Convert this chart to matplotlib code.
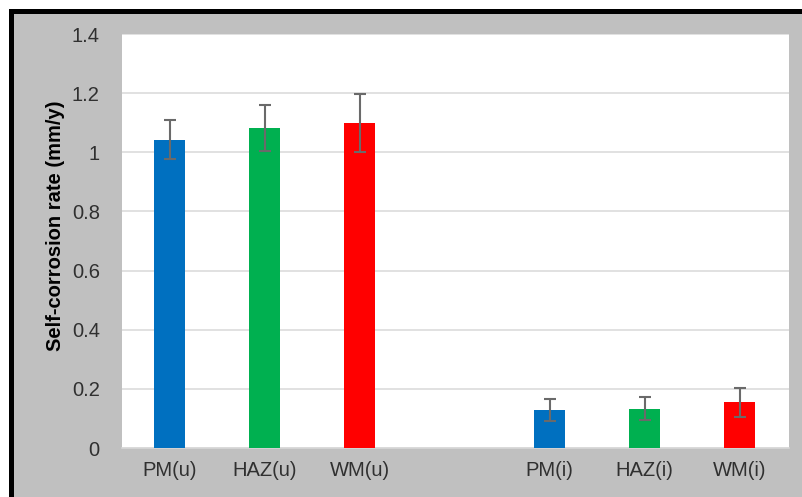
import matplotlib
matplotlib.use("Agg")
import matplotlib.pyplot as plt
from matplotlib.patches import Rectangle

# Self-corrosion rates for untreated (u) and treated (i) zones
categories = ["PM(u)", "HAZ(u)", "WM(u)", "PM(i)", "HAZ(i)", "WM(i)"]
positions = [0, 1, 2, 4, 5, 6]
rates = [1.043, 1.081, 1.098, 0.129, 0.133, 0.155]
errors = [0.066, 0.078, 0.098, 0.038, 0.038, 0.049]
colors = ["#0070c0", "#00b050", "#ff0000", "#0070c0", "#00b050", "#ff0000"]
y_ticks = [0, 0.2, 0.4, 0.6, 0.8, 1, 1.2, 1.4]
y_tick_labels = ["0", "0.2", "0.4", "0.6", "0.8", "1", "1.2", "1.4"]

plt.rcParams["font.family"] = ["Liberation Sans", "DejaVu Sans"]

W, H = 802, 497
fig = plt.figure(figsize=(W / 100, H / 100), dpi=100, facecolor="white")

# Gray chart frame with a heavy black border along top and left
frame = Rectangle((10.5 / W, -0.2), 1.5, 1 - 10.5 / H + 0.2,
                  transform=fig.transFigure, facecolor="#c0c0c0",
                  edgecolor="black", linewidth=3.6, zorder=-10)
fig.patches.append(frame)

ax = fig.add_axes([122 / W, 49 / H, 667 / W, 414 / H])
ax.set_facecolor("white")

ax.bar(positions, rates, width=0.33, color=colors, zorder=3,
       yerr=errors, ecolor="#6a6a6a",
       error_kw=dict(elinewidth=1.5, capsize=4, capthick=1.5, zorder=4))

ax.set_xlim(-0.5, 6.52)
ax.set_ylim(0, 1.4)
ax.set_yticks(y_ticks)
ax.set_yticklabels(y_tick_labels)
ax.set_xticks(positions)
ax.set_xticklabels(categories)

ax.grid(axis="y", color="#d9d9d9", linewidth=1.1, zorder=1)
ax.tick_params(axis="both", length=0, labelsize=14.5, labelcolor="#303030")
ax.tick_params(axis="y", pad=16)
ax.tick_params(axis="x", pad=9)

for side in ("top", "right", "left"):
    ax.spines[side].set_visible(False)
ax.spines["bottom"].set_color("#d9d9d9")
ax.spines["bottom"].set_linewidth(1.1)

ax.set_ylabel("Self-corrosion rate (mm/y)", fontsize=14.5, fontweight="bold",
              color="black")
ax.yaxis.set_label_coords(-(122 - 65) / 667, (448 - 226) / 414)

fig.savefig("out.png", dpi=100, facecolor=fig.get_facecolor())
